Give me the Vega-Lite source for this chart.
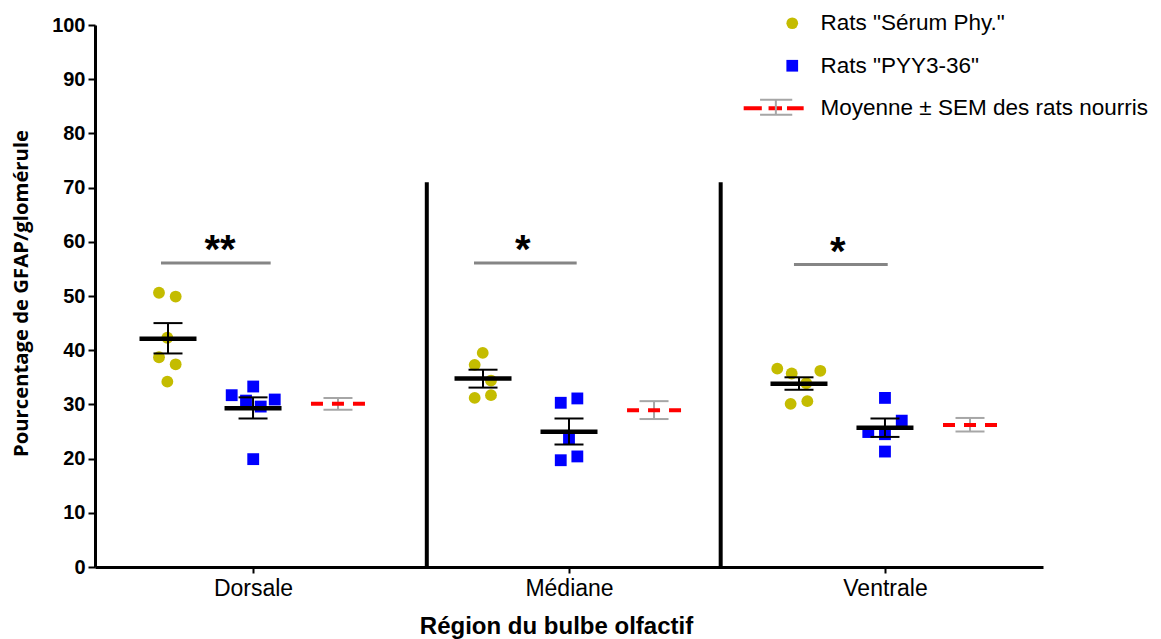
{
  "$schema": "https://vega.github.io/schema/vega-lite/v6.json",
  "width": 948,
  "height": 542,
  "autosize": "none",
  "padding": {"left": 95, "top": 25, "right": 118, "bottom": 72},
  "datasets": {
    "points": [
      {"region": "Dorsale", "group": "S", "x": 0.675, "y": 50.6},
      {"region": "Dorsale", "group": "S", "x": 0.851, "y": 49.9},
      {"region": "Dorsale", "group": "S", "x": 0.763, "y": 42.3},
      {"region": "Dorsale", "group": "S", "x": 0.675, "y": 38.7},
      {"region": "Dorsale", "group": "S", "x": 0.851, "y": 37.4},
      {"region": "Dorsale", "group": "S", "x": 0.763, "y": 34.2},
      {"region": "Dorsale", "group": "P", "x": 1.442, "y": 31.7},
      {"region": "Dorsale", "group": "P", "x": 1.669, "y": 33.3},
      {"region": "Dorsale", "group": "P", "x": 1.593, "y": 30.7},
      {"region": "Dorsale", "group": "P", "x": 1.748, "y": 29.6},
      {"region": "Dorsale", "group": "P", "x": 1.896, "y": 30.9},
      {"region": "Dorsale", "group": "P", "x": 1.669, "y": 19.9},
      {"region": "Médiane", "group": "S", "x": 4.09, "y": 39.5},
      {"region": "Médiane", "group": "S", "x": 4.005, "y": 37.3},
      {"region": "Médiane", "group": "S", "x": 4.177, "y": 34.4},
      {"region": "Médiane", "group": "S", "x": 4.005, "y": 31.2},
      {"region": "Médiane", "group": "S", "x": 4.177, "y": 31.7},
      {"region": "Médiane", "group": "P", "x": 4.913, "y": 30.3},
      {"region": "Médiane", "group": "P", "x": 5.088, "y": 31.1},
      {"region": "Médiane", "group": "P", "x": 5.0, "y": 23.7},
      {"region": "Médiane", "group": "P", "x": 4.913, "y": 19.7},
      {"region": "Médiane", "group": "P", "x": 5.088, "y": 20.4},
      {"region": "Ventrale", "group": "S", "x": 7.197, "y": 36.6},
      {"region": "Ventrale", "group": "S", "x": 7.349, "y": 35.7},
      {"region": "Ventrale", "group": "S", "x": 7.651, "y": 36.2},
      {"region": "Ventrale", "group": "S", "x": 7.503, "y": 33.9},
      {"region": "Ventrale", "group": "S", "x": 7.338, "y": 30.1},
      {"region": "Ventrale", "group": "S", "x": 7.514, "y": 30.6},
      {"region": "Ventrale", "group": "P", "x": 8.333, "y": 31.2},
      {"region": "Ventrale", "group": "P", "x": 8.51, "y": 27.0},
      {"region": "Ventrale", "group": "P", "x": 8.157, "y": 24.9},
      {"region": "Ventrale", "group": "P", "x": 8.333, "y": 24.5},
      {"region": "Ventrale", "group": "P", "x": 8.333, "y": 21.3}
    ],
    "summary": [
      {"region": "Dorsale", "group": "S", "x": 0.77, "mean": 42.1, "lo": 39.4, "hi": 45.0, "sem": "SEM"},
      {"region": "Dorsale", "group": "P", "x": 1.667, "mean": 29.3, "lo": 27.4, "hi": 31.3, "sem": "SEM"},
      {"region": "Dorsale", "group": "N", "x": 2.563, "mean": 30.1, "lo": 29.0, "hi": 31.2, "sem": "SEM"},
      {"region": "Médiane", "group": "S", "x": 4.093, "mean": 34.8, "lo": 33.1, "hi": 36.4, "sem": "SEM"},
      {"region": "Médiane", "group": "P", "x": 5.0, "mean": 24.95, "lo": 22.6, "hi": 27.4, "sem": "SEM"},
      {"region": "Médiane", "group": "N", "x": 5.897, "mean": 28.9, "lo": 27.3, "hi": 30.6, "sem": "SEM"},
      {"region": "Ventrale", "group": "S", "x": 7.426, "mean": 33.8, "lo": 32.7, "hi": 35.0, "sem": "SEM"},
      {"region": "Ventrale", "group": "P", "x": 8.333, "mean": 25.7, "lo": 24.0, "hi": 27.4, "sem": "SEM"},
      {"region": "Ventrale", "group": "N", "x": 9.23, "mean": 26.2, "lo": 25.0, "hi": 27.5, "sem": "SEM"}
    ],
    "sig": [
      {"region": "Dorsale", "x1": 0.696, "x2": 1.853, "y": 56.1, "xt": 1.319, "label": "**"},
      {"region": "Médiane", "x1": 3.998, "x2": 5.081, "y": 56.1, "xt": 4.512, "label": "*"},
      {"region": "Ventrale", "x1": 7.373, "x2": 8.362, "y": 55.8, "xt": 7.834, "label": "*"}
    ],
    "separators": [
      {"x": 3.5, "y0": 0, "y1": 71},
      {"x": 6.6, "y0": 0, "y1": 71}
    ]
  },
  "layer": [
    {
      "data": {"name": "separators"},
      "mark": {"type": "rule", "color": "black", "strokeWidth": 4},
      "encoding": {
        "x": {"field": "x", "type": "quantitative", "scale": {"domain": [0, 10], "nice": false, "zero": false},
          "axis": {
            "values": [1.6667, 5.0, 8.3333],
            "labelExpr": "datum.value < 3 ? 'Dorsale' : datum.value < 6.5 ? 'Médiane' : 'Ventrale'",
            "title": "Région du bulbe olfactif",
            "grid": false,
            "domainColor": "black", "domainWidth": 3,
            "tickColor": "black", "tickWidth": 2, "tickSize": 6,
            "labelFont": "Liberation Sans", "labelFontSize": 23, "labelColor": "black", "labelPadding": 4,
            "titleFont": "Liberation Sans", "titleFontSize": 24, "titleFontWeight": "bold", "titleColor": "black", "titlePadding": 14,
            "titleX": 461
          }},
        "y": {"field": "y0", "type": "quantitative", "scale": {"domain": [0, 100], "nice": false},
          "axis": {
            "values": [0, 10, 20, 30, 40, 50, 60, 70, 80, 90, 100],
            "title": "Pourcentage de GFAP/glomérule",
            "grid": false,
            "domainColor": "black", "domainWidth": 3,
            "tickColor": "black", "tickWidth": 2, "tickSize": 7,
            "labelFont": "Liberation Sans", "labelFontSize": 20, "labelFontWeight": "bold", "labelColor": "black", "labelPadding": 3,
            "titleFont": "Open Sans", "titleFontSize": 20.3, "titleFontWeight": "bold", "titleColor": "black", "titlePadding": 20,
            "titleY": 268
          }},
        "y2": {"field": "y1"}
      }
    },
    {
      "data": {"name": "sig"},
      "mark": {"type": "rule", "color": "#858585", "strokeWidth": 3},
      "encoding": {
        "x": {"field": "x1", "type": "quantitative"},
        "x2": {"field": "x2"},
        "y": {"field": "y", "type": "quantitative"}
      }
    },
    {
      "data": {"name": "sig"},
      "mark": {"type": "text", "font": "Liberation Sans", "fontSize": 40, "fontWeight": "bold", "baseline": "alphabetic", "align": "center", "color": "black"},
      "encoding": {
        "x": {"field": "xt", "type": "quantitative"},
        "y": {"field": "y", "type": "quantitative"},
        "text": {"field": "label"}
      }
    },
    {
      "data": {"name": "points"},
      "mark": {"type": "point", "filled": true, "size": 140, "opacity": 1},
      "encoding": {
        "x": {"field": "x", "type": "quantitative"},
        "y": {"field": "y", "type": "quantitative"},
        "color": {"field": "group", "type": "nominal",
          "scale": {"domain": ["S", "P", "N"], "range": ["#C4BC00", "#0000FF", "#FF0000"]},
          "legend": {
            "orient": "none", "legendX": 686, "legendY": -13, "title": null,
            "symbolSize": 137, "symbolOpacity": 1, "symbolStrokeWidth": 0,
            "labelFont": "Liberation Sans", "labelFontSize": 22.5, "labelColor": "black", "labelOffset": 17, "labelLimit": 600,
            "rowPadding": 19.5,
            "labelExpr": "datum.value === 'S' ? 'Rats \"Sérum Phy.\"' : datum.value === 'P' ? 'Rats \"PYY3-36\"' : 'Moyenne ± SEM des rats nourris'"
          }},
        "shape": {"field": "group", "type": "nominal",
          "scale": {"domain": ["S", "P", "N"], "range": ["circle", "square", "M-8.3,-0.34H-5.2V0.34H-8.3Z M-4.05,-0.34H-1.75V0.34H-4.05Z M-0.9,-0.34H1.95V0.34H-0.9Z"]},
          "legend": {
            "orient": "none", "legendX": 686, "legendY": -13, "title": null,
            "symbolSize": 137, "symbolOpacity": 1, "symbolStrokeWidth": 0,
            "labelFont": "Liberation Sans", "labelFontSize": 22.5, "labelColor": "black", "labelOffset": 17, "labelLimit": 600,
            "rowPadding": 19.5,
            "labelExpr": "datum.value === 'S' ? 'Rats \"Sérum Phy.\"' : datum.value === 'P' ? 'Rats \"PYY3-36\"' : 'Moyenne ± SEM des rats nourris'"
          }}
      }
    },
    {
      "data": {"name": "summary"},
      "transform": [{"filter": "datum.group !== 'N'"}],
      "mark": {"type": "rule", "color": "black", "strokeWidth": 2},
      "encoding": {
        "x": {"field": "x", "type": "quantitative"},
        "y": {"field": "lo", "type": "quantitative"},
        "y2": {"field": "hi"}
      }
    },
    {
      "data": {"name": "summary"},
      "transform": [{"filter": "datum.group !== 'N'"}],
      "mark": {"type": "tick", "orient": "horizontal", "color": "black", "size": 29, "thickness": 2, "opacity": 1},
      "encoding": {
        "x": {"field": "x", "type": "quantitative"},
        "y": {"field": "lo", "type": "quantitative"}
      }
    },
    {
      "data": {"name": "summary"},
      "transform": [{"filter": "datum.group !== 'N'"}],
      "mark": {"type": "tick", "orient": "horizontal", "color": "black", "size": 29, "thickness": 2, "opacity": 1},
      "encoding": {
        "x": {"field": "x", "type": "quantitative"},
        "y": {"field": "hi", "type": "quantitative"}
      }
    },
    {
      "data": {"name": "summary"},
      "transform": [{"filter": "datum.group !== 'N'"}],
      "mark": {"type": "tick", "orient": "horizontal", "color": "black", "size": 57, "thickness": 4.5, "opacity": 1},
      "encoding": {
        "x": {"field": "x", "type": "quantitative"},
        "y": {"field": "mean", "type": "quantitative"}
      }
    },
    {
      "data": {"name": "summary"},
      "transform": [{"filter": "datum.group === 'N'"}],
      "mark": {"type": "rule", "color": "#A6A6A6", "strokeWidth": 2},
      "encoding": {
        "x": {"field": "x", "type": "quantitative"},
        "y": {"field": "lo", "type": "quantitative"},
        "y2": {"field": "hi"},
        "opacity": {"field": "sem", "type": "nominal", "scale": {"domain": ["SEM"], "range": [1]},
          "legend": {
            "orient": "none", "legendX": 686, "legendY": 71, "title": null,
            "symbolType": "M-5.5,-1.28H0M-5.5,1.28H0M-2.8,-1.28V1.28",
            "symbolSize": 137, "symbolStrokeColor": "#A6A6A6", "symbolStrokeWidth": 2, "symbolFillColor": "transparent",
            "labelExpr": "''", "labelFontSize": 22.5
          }}
      }
    },
    {
      "data": {"name": "summary"},
      "transform": [{"filter": "datum.group === 'N'"}],
      "mark": {"type": "tick", "orient": "horizontal", "color": "#A6A6A6", "size": 29, "thickness": 2, "opacity": 1},
      "encoding": {
        "x": {"field": "x", "type": "quantitative"},
        "y": {"field": "lo", "type": "quantitative"}
      }
    },
    {
      "data": {"name": "summary"},
      "transform": [{"filter": "datum.group === 'N'"}],
      "mark": {"type": "tick", "orient": "horizontal", "color": "#A6A6A6", "size": 29, "thickness": 2, "opacity": 1},
      "encoding": {
        "x": {"field": "x", "type": "quantitative"},
        "y": {"field": "hi", "type": "quantitative"}
      }
    },
    {
      "data": {"name": "summary"},
      "transform": [{"filter": "datum.group === 'N'"}],
      "mark": {"type": "rule", "color": "#FF0000", "strokeWidth": 4, "strokeDash": [12, 9], "xOffset": -27, "x2Offset": 27},
      "encoding": {
        "x": {"field": "x", "type": "quantitative"},
        "x2": {"field": "x"},
        "y": {"field": "mean", "type": "quantitative"}
      }
    }
  ],
  "config": {
    "view": {"stroke": null},
    "font": "Liberation Sans"
  }
}
